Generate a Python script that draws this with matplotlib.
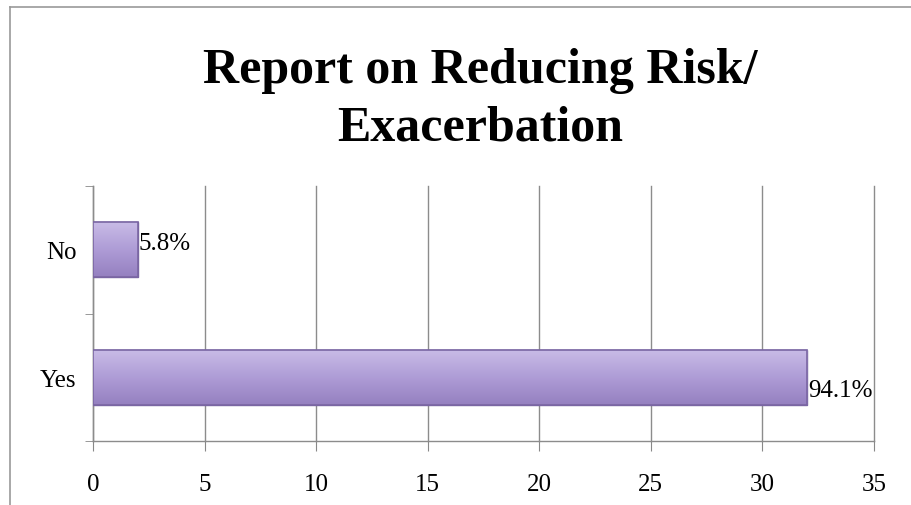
import matplotlib
matplotlib.use("Agg")
import matplotlib.pyplot as plt
import numpy as np
from matplotlib.lines import Line2D
from matplotlib.colors import LinearSegmentedColormap

categories = ["Yes", "No"]
values = [32, 2]
labels = ["94.1%", "5.8%"]
xticks = [0, 5, 10, 15, 20, 25, 30, 35]
title = "Report on Reducing Risk/\nExacerbation"

plt.rcParams['font.family'] = ['Liberation Serif', 'DejaVu Serif']

fig = plt.figure(figsize=(9.11, 5.06), dpi=100)
ax = fig.add_axes([0.1021, 0.1265, 0.8573, 0.5039])

ypos = np.arange(len(categories))
h = 0.43
bars = ax.barh(ypos, values, height=h, color='#AA97D2', edgecolor='#7A66A3', linewidth=1.0, zorder=3)

grad = np.linspace(0, 1, 100).reshape(-1, 1)
cmap = LinearSegmentedColormap.from_list('g', ['#9580C0', '#AE9CD6', '#C8BBE6'])
for b in bars:
    x0, y0 = b.get_x(), b.get_y()
    w, hh = b.get_width(), b.get_height()
    im = ax.imshow(grad, extent=[x0, x0 + w, y0, y0 + hh], origin='lower', cmap=cmap,
                   aspect='auto', zorder=3.5, interpolation='bicubic')
    im.set_clip_path(b)
    ax.add_patch(plt.Rectangle((x0, y0), w, hh, fill=False, edgecolor='#7A66A3', linewidth=1.2, zorder=4))

ax.set_xlim(0, 35)
ax.set_ylim(-0.5, 1.5)
ax.set_aspect('auto')
ax.set_xticks(xticks)
ax.set_xticklabels([str(t) for t in xticks], fontsize=18)
ax.set_yticks(ypos)
ax.set_yticklabels(categories, fontsize=18)
ax.tick_params(axis='y', which='major', length=0, pad=12)
ax.set_yticks([-0.5, 0.5, 1.5], minor=True)
ax.tick_params(axis='y', which='minor', length=6, color='#888888', direction='out')
ax.tick_params(axis='x', which='major', length=7, color='#888888', direction='out', pad=16)

ax.grid(axis='x', color='#8c8c8c', linewidth=1.0, zorder=0)
for gl in ax.get_xgridlines():
    gl.set_clip_on(False)
for s in ['top', 'right']:
    ax.spines[s].set_visible(False)
for s in ['left', 'bottom']:
    ax.spines[s].set_color('#8c8c8c')
    ax.spines[s].set_linewidth(1.0)

offsets = [-0.1, 0.05]
for i, (v, lab) in enumerate(zip(values, labels)):
    ax.text(v + 0.05, ypos[i] + offsets[i], lab, fontsize=18, va='center', ha='left', zorder=5)

fig.text(0.527, 0.803, title, ha='center', va='center', fontsize=36, fontweight='bold',
         linespacing=1.35)

fig.add_artist(Line2D([0.011, 0.011], [0.0, 0.984], transform=fig.transFigure, color='#999999', linewidth=1.2))
fig.add_artist(Line2D([0.011, 1.0], [0.984, 0.984], transform=fig.transFigure, color='#999999', linewidth=1.2))

fig.savefig("out.png", dpi=100)
